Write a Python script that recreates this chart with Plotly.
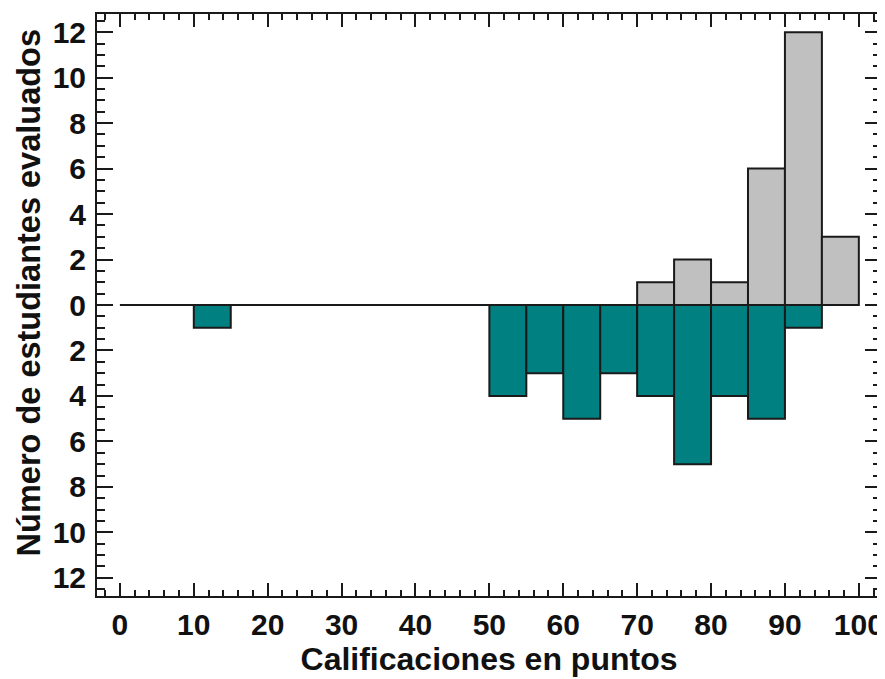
import plotly.graph_objects as go

# Data
bin_starts = [0, 5, 10, 15, 20, 25, 30, 35, 40, 45, 50, 55, 60, 65, 70, 75, 80, 85, 90, 95]
upper_counts = [0, 0, 0, 0, 0, 0, 0, 0, 0, 0, 0, 0, 0, 0, 1, 2, 1, 6, 12, 3]
lower_counts = [0, 0, 1, 0, 0, 0, 0, 0, 0, 0, 4, 3, 5, 3, 4, 7, 4, 5, 1, 0]
bin_width = 5
x_tick_vals = [0, 10, 20, 30, 40, 50, 60, 70, 80, 90, 100]
y_tick_vals = [-12, -10, -8, -6, -4, -2, 0, 2, 4, 6, 8, 10, 12]
y_tick_text = [str(abs(v)) for v in y_tick_vals]
x_title = "Calificaciones en puntos"
y_title = "Número de estudiantes evaluados"

centers = [s + bin_width / 2 for s in bin_starts]

up_x = [c for c, v in zip(centers, upper_counts) if v > 0]
up_y = [v for v in upper_counts if v > 0]
lo_x = [c for c, v in zip(centers, lower_counts) if v > 0]
lo_y = [-v for v in lower_counts if v > 0]

fig = go.Figure()
fig.add_trace(go.Bar(x=up_x, y=up_y, width=bin_width,
                     marker=dict(color="#C0C0C0", line=dict(color="#1a1a1a", width=2)),
                     showlegend=False))
fig.add_trace(go.Bar(x=lo_x, y=lo_y, width=bin_width,
                     marker=dict(color="#008080", line=dict(color="#1a1a1a", width=2)),
                     showlegend=False))
fig.add_trace(go.Scatter(x=[bin_starts[0], bin_starts[-1] + bin_width], y=[0, 0],
                         mode="lines", line=dict(color="#1a1a1a", width=2),
                         showlegend=False, hoverinfo="skip"))

font_family = "Liberation Sans, Arial, sans-serif"

# The page body has an 8px margin, so the figure is shifted by 8px.
fig.update_layout(
    width=877, height=671,
    margin=dict(l=89, r=4, t=6, b=83),
    paper_bgcolor="white", plot_bgcolor="white",
    barmode="overlay",
    font=dict(family=font_family, color="#111111"),
    annotations=[dict(
        text=y_title, textangle=-90, showarrow=False,
        xref="paper", yref="paper", x=-0.0867, y=0.52,
        xanchor="center", yanchor="middle",
        font=dict(size=32.5, family=font_family, weight="bold", color="#111111"),
    )],
)
fig.update_xaxes(
    range=[-3.1, 103], tickvals=x_tick_vals, automargin=False,
    ticks="inside", ticklen=13, tickwidth=2, tickcolor="#1a1a1a",
    showline=True, linecolor="#1a1a1a", linewidth=2, mirror="ticks",
    showgrid=False, zeroline=False,
    tickfont=dict(size=30, family=font_family, weight="bold"),
    ticklabelstandoff=1,
    minor=dict(dtick=2, ticks="inside", ticklen=6, tickwidth=2, tickcolor="#1a1a1a", showgrid=False),
    title=dict(text=x_title, font=dict(size=32, family=font_family, weight="bold"), standoff=1),
)
fig.update_yaxes(
    range=[-12.8, 12.8], tickvals=y_tick_vals, ticktext=y_tick_text, automargin=False,
    ticks="inside", ticklen=16, tickwidth=2, tickcolor="#1a1a1a",
    showline=True, linecolor="#1a1a1a", linewidth=2, mirror="ticks",
    showgrid=False, zeroline=False,
    tickfont=dict(size=30, family=font_family, weight="bold"),
    ticklabelstandoff=3,
    minor=dict(dtick=0.5, ticks="inside", ticklen=8, tickwidth=2, tickcolor="#1a1a1a", showgrid=False),
)

fig.write_html("out.html")
